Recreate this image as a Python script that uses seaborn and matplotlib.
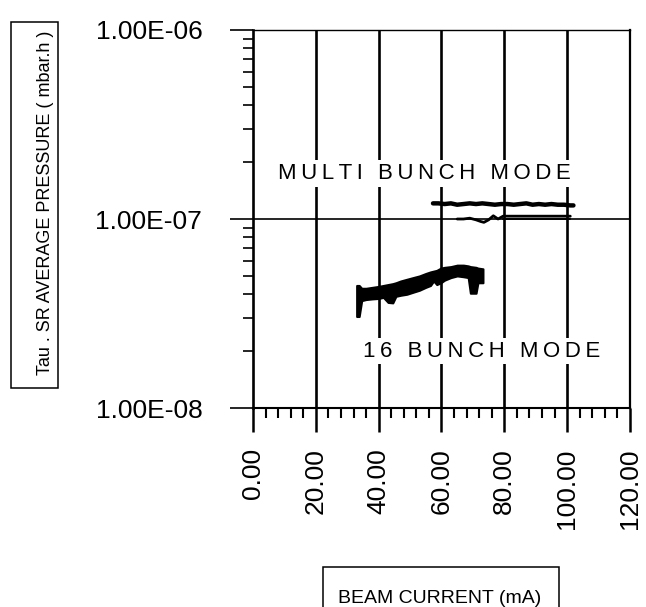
import numpy as np
import pandas as pd
import matplotlib
matplotlib.use("Agg")
import matplotlib.pyplot as plt
import seaborn as sns
from matplotlib.patches import Rectangle
from matplotlib.ticker import FuncFormatter, MultipleLocator, LogLocator, NullFormatter

# multi bunch mode, upper trace (mA, mbar.h)
multi_upper_x = [57.3, 59, 61, 63, 65, 67, 69, 71, 73, 75, 77, 79, 81, 83, 85,
                 87, 89, 91, 93, 95, 97, 99, 101, 102]
multi_upper_y = [1.21e-7, 1.21e-7, 1.20e-7, 1.21e-7, 1.19e-7, 1.20e-7, 1.21e-7,
                 1.20e-7, 1.21e-7, 1.20e-7, 1.19e-7, 1.20e-7, 1.20e-7, 1.19e-7,
                 1.20e-7, 1.21e-7, 1.19e-7, 1.20e-7, 1.19e-7, 1.20e-7, 1.19e-7,
                 1.19e-7, 1.18e-7, 1.18e-7]

# multi bunch mode, lower trace
multi_lower_x = [65, 67, 69, 71, 72.5, 73.5, 75, 76.5, 78, 79.6, 85, 90, 95, 101]
multi_lower_y = [1.00e-7, 1.00e-7, 1.01e-7, 0.99e-7, 0.97e-7, 0.96e-7, 0.99e-7,
                 1.04e-7, 1.00e-7, 1.035e-7, 1.035e-7, 1.035e-7, 1.035e-7, 1.035e-7]
multi_lower2_x = [79.6, 85, 90, 95, 101]
multi_lower2_y = [1.005e-7, 1.005e-7, 1.005e-7, 1.005e-7, 1.005e-7]

# 16 bunch mode band (upper / lower edge)
b16_x = [33.0, 33.8, 34.6, 36, 38, 40, 41.5, 43, 44.5, 45.5, 47, 49, 51, 53, 55,
         56.5, 57.5, 58.5, 59.8, 61, 63, 65, 67, 68.5, 69.2, 71.0, 71.6, 73.2]
b16_up = [4.45, 4.45, 4.30, 4.30, 4.35, 4.40, 4.45, 4.50, 4.55, 4.60, 4.70, 4.80,
          4.90, 5.00, 5.15, 5.25, 5.30, 5.35, 5.50, 5.55, 5.60, 5.70, 5.70, 5.65,
          5.60, 5.55, 5.50, 5.45]
b16_lo = [3.05, 3.05, 3.70, 3.75, 3.78, 3.80, 3.85, 3.62, 3.60, 3.90, 3.95, 4.00,
          4.10, 4.20, 4.35, 4.45, 4.70, 4.50, 4.60, 4.75, 4.90, 5.00, 4.95, 4.90,
          4.05, 4.05, 4.60, 4.60]
b16_up = [v * 1e-8 for v in b16_up]
b16_lo = [v * 1e-8 for v in b16_lo]

x_ticks = [0, 20, 40, 60, 80, 100, 120]
y_ticks = [1e-8, 1e-7, 1e-6]


def spaced(s):
    # wide letter spacing like the scanned original
    return "\u2009".join(s)


sns.set_theme(style="white")
plt.rcParams["font.family"] = ["Liberation Sans", "DejaVu Sans"]

fig = plt.figure(figsize=(6.46, 6.07), dpi=100)
ax = fig.add_axes([0.3916, 0.3278, 0.5836, 0.6228])

ax.set_yscale("log")
ax.set_xlim(0, 120)
ax.set_ylim(1e-8, 1e-6)

for xv in x_ticks[1:-1]:
    ax.axvline(xv, color="black", lw=1.9, zorder=1)
ax.axhline(1e-7, color="black", lw=1.2, zorder=1)

df_up = pd.DataFrame({"x": multi_upper_x, "y": multi_upper_y})
df_lo = pd.DataFrame({"x": multi_lower_x, "y": multi_lower_y})
df_lo2 = pd.DataFrame({"x": multi_lower2_x, "y": multi_lower2_y})
sns.lineplot(data=df_up, x="x", y="y", color="black", lw=3.2, ax=ax,
             estimator=None, sort=False, zorder=3)
sns.lineplot(data=df_lo, x="x", y="y", color="black", lw=2.0, ax=ax,
             estimator=None, sort=False, zorder=3)
sns.lineplot(data=df_lo2, x="x", y="y", color="black", lw=1.4, ax=ax,
             estimator=None, sort=False, zorder=3)

ax.fill_between(b16_x, b16_lo, b16_up, color="black", lw=1.5, zorder=3)

txt_box = dict(facecolor="white", edgecolor="none", pad=2)
ax.text(8.0, 1.63e-7, spaced("MULTI BUNCH MODE"), fontsize=16, color="black",
        va="baseline", ha="left", bbox=txt_box, zorder=4)
ax.text(35.0, 1.87e-8, spaced("16 BUNCH MODE"), fontsize=16, color="black",
        va="baseline", ha="left", bbox=txt_box, zorder=4)

ax.set_xlabel("")
ax.set_ylabel("")
ax.set_xticks(x_ticks)
ax.xaxis.set_minor_locator(MultipleLocator(4))
ax.xaxis.set_major_formatter(FuncFormatter(lambda v, p: f"{v:.2f}"))
ax.set_yticks(y_ticks)
ax.yaxis.set_minor_locator(LogLocator(base=10, subs=np.arange(2, 10)))
ax.yaxis.set_minor_formatter(NullFormatter())
ax.yaxis.set_major_formatter(FuncFormatter(lambda v, p: f"{v:.2E}"))

ax.tick_params(axis="x", which="major", bottom=True, direction="out",
               length=17, width=1.8, pad=12, labelsize=19, labelrotation=90,
               colors="black")
ax.tick_params(axis="x", which="minor", bottom=True, direction="out",
               length=7, width=1.5, colors="black")
ax.tick_params(axis="y", which="major", left=True, direction="out",
               length=16.5, width=1.2, pad=20, labelsize=19, colors="black")
ax.tick_params(axis="y", which="minor", left=True, direction="out",
               length=7, width=1.2, colors="black")

for side, w in [("left", 1.9), ("bottom", 1.5), ("top", 1.0), ("right", 1.6)]:
    ax.spines[side].set_visible(True)
    ax.spines[side].set_color("black")
    ax.spines[side].set_linewidth(w)

# boxed axis titles
fig.add_artist(Rectangle((0.017, 0.3608), 0.0728, 0.603, fill=False,
                         edgecolor="black", lw=1.1, transform=fig.transFigure))
fig.text(0.070, 0.6656, "Tau . SR AVERAGE PRESSURE ( mbar.h )", rotation=90,
         fontsize=13, ha="center", va="center", color="black")
fig.add_artist(Rectangle((0.5, -0.01), 0.3653, 0.076, fill=False,
                         edgecolor="black", lw=1.1, transform=fig.transFigure))
fig.text(0.681, 0.0066, "BEAM CURRENT (mA)", fontsize=14, ha="center",
         va="baseline", color="black")

fig.savefig("out.png", dpi=100)
